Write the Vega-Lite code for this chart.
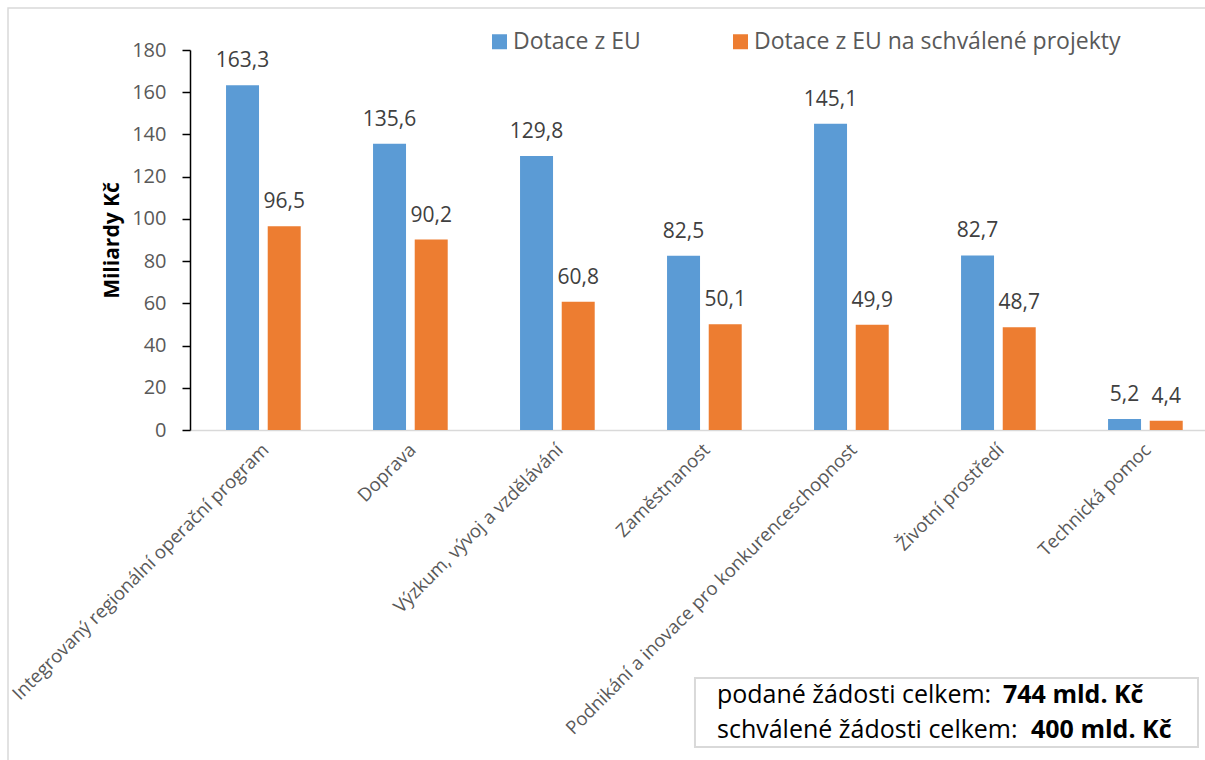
{
  "$schema": "https://vega.github.io/schema/vega-lite/v6.json",
  "width": 1015,
  "height": 380,
  "autosize": {"type": "none"},
  "padding": {"left": 190, "top": 50, "right": 0, "bottom": 330},
  "background": "white",
  "config": {
    "view": {"stroke": null},
    "font": "Open Sans",
    "locale": {"number": {"decimal": ",", "thousands": " ", "grouping": [3], "currency": ["", " Kč"]}}
  },
  "datasets": {
    "bars": [
      {"program": "Integrovaný regionální operační program", "series": "Dotace z EU", "value": 163.3},
      {"program": "Integrovaný regionální operační program", "series": "Dotace z EU na schválené projekty", "value": 96.5},
      {"program": "Doprava", "series": "Dotace z EU", "value": 135.6},
      {"program": "Doprava", "series": "Dotace z EU na schválené projekty", "value": 90.2},
      {"program": "Výzkum, vývoj a vzdělávání", "series": "Dotace z EU", "value": 129.8},
      {"program": "Výzkum, vývoj a vzdělávání", "series": "Dotace z EU na schválené projekty", "value": 60.8},
      {"program": "Zaměstnanost", "series": "Dotace z EU", "value": 82.5},
      {"program": "Zaměstnanost", "series": "Dotace z EU na schválené projekty", "value": 50.1},
      {"program": "Podnikání a inovace pro konkurenceschopnost", "series": "Dotace z EU", "value": 145.1},
      {"program": "Podnikání a inovace pro konkurenceschopnost", "series": "Dotace z EU na schválené projekty", "value": 49.9},
      {"program": "Životní prostředí", "series": "Dotace z EU", "value": 82.7},
      {"program": "Životní prostředí", "series": "Dotace z EU na schválené projekty", "value": 48.7},
      {"program": "Technická pomoc", "series": "Dotace z EU", "value": 5.2},
      {"program": "Technická pomoc", "series": "Dotace z EU na schválené projekty", "value": 4.4}
    ],
    "note": [
      {"line": 1, "normal": "podané žádosti celkem: ", "bold": "744 mld. Kč"},
      {"line": 2, "normal": "schválené žádosti celkem: ", "bold": "400 mld. Kč"}
    ],
    "frame": [{"item": "frame"}]
  },
  "layer": [
    {
      "data": {"name": "bars"},
      "encoding": {
        "x": {
          "field": "program", "type": "nominal", "sort": null, "title": null,
          "scale": {"paddingInner": 0.492, "paddingOuter": 0.1983, "align": 0.618},
          "axis": {
            "labelAngle": -45, "labelFontSize": 18.5, "labelColor": "#595959", "labelLimit": 0,
            "labelPadding": 10, "labelOffset": -4, "ticks": false, "domainColor": "#d9d9d9", "domainWidth": 1.5
          }
        },
        "xOffset": {"field": "series", "type": "nominal", "sort": null, "scale": {"paddingInner": 0.2086, "paddingOuter": 0}},
        "y": {
          "field": "value", "type": "quantitative",
          "scale": {"domain": [0, 180]},
          "axis": {
            "values": [0, 20, 40, 60, 80, 100, 120, 140, 160, 180],
            "grid": false, "title": "Miliardy Kč", "titleFontSize": 21, "titleFontWeight": "bold",
            "titleColor": "#000000", "titlePadding": 9, "labelFontSize": 20, "labelColor": "#595959",
            "labelPadding": 16, "tickSize": 8, "tickColor": "#000000", "tickWidth": 1.5,
            "domainColor": "#000000", "domainWidth": 1.5
          }
        }
      },
      "layer": [
        {
          "mark": {"type": "bar"},
          "encoding": {
            "color": {
              "field": "series", "type": "nominal", "sort": null,
              "scale": {"range": ["#5B9BD5", "#ED7D31"]},
              "legend": {
                "title": null, "orient": "none", "direction": "horizontal", "legendX": 298, "legendY": -20,
                "symbolType": "square", "symbolSize": 225, "symbolStrokeWidth": 0, "symbolOpacity": 1,
                "labelFontSize": 23, "labelColor": "#595959", "labelOffset": 2, "columnPadding": 88, "labelLimit": 0
              }
            }
          }
        },
        {
          "mark": {"type": "text", "baseline": "alphabetic", "dy": -18, "fontSize": 21, "color": "#404040"},
          "encoding": {"text": {"field": "value", "type": "quantitative", "format": ".1f"}}
        }
      ]
    },
    {
      "data": {"name": "frame"},
      "mark": {"type": "rect", "fill": null, "stroke": "#d9d9d9", "strokeWidth": 1.5},
      "encoding": {
        "x": {"datum": -0.1793, "type": "quantitative", "scale": {"domain": [0, 1]}, "axis": null},
        "x2": {"datum": 1.2},
        "y": {"datum": 199.9, "type": "quantitative", "scale": {"domain": [0, 180]}, "axis": null},
        "y2": {"datum": -400}
      }
    },
    {
      "data": {"name": "frame"},
      "mark": {"type": "rect", "fill": "white", "stroke": "#d9d9d9", "strokeWidth": 2},
      "encoding": {
        "x": {"datum": 0.4975, "type": "quantitative", "scale": {"domain": [0, 1]}, "axis": null},
        "x2": {"datum": 0.9931},
        "y": {"datum": -117.5, "type": "quantitative", "scale": {"domain": [0, 180]}, "axis": null},
        "y2": {"datum": -150.2}
      }
    },
    {
      "data": {"name": "note"},
      "transform": [{"filter": "datum.line == 1"}],
      "mark": {"type": "text", "align": "left", "baseline": "alphabetic", "fontSize": 25, "color": "#000000"},
      "encoding": {
        "x": {"datum": 0.5192, "type": "quantitative", "scale": {"domain": [0, 1]}, "axis": null},
        "y": {"datum": -129.3, "type": "quantitative", "scale": {"domain": [0, 180]}, "axis": null},
        "text": {"field": "normal"}
      }
    },
    {
      "data": {"name": "note"},
      "transform": [{"filter": "datum.line == 1"}],
      "mark": {"type": "text", "align": "left", "baseline": "alphabetic", "fontSize": 25, "fontWeight": "bold", "color": "#000000"},
      "encoding": {
        "x": {"datum": 0.801, "type": "quantitative", "scale": {"domain": [0, 1]}, "axis": null},
        "y": {"datum": -129.3, "type": "quantitative", "scale": {"domain": [0, 180]}, "axis": null},
        "text": {"field": "bold"}
      }
    },
    {
      "data": {"name": "note"},
      "transform": [{"filter": "datum.line == 2"}],
      "mark": {"type": "text", "align": "left", "baseline": "alphabetic", "fontSize": 25, "color": "#000000"},
      "encoding": {
        "x": {"datum": 0.5192, "type": "quantitative", "scale": {"domain": [0, 1]}, "axis": null},
        "y": {"datum": -145.9, "type": "quantitative", "scale": {"domain": [0, 180]}, "axis": null},
        "text": {"field": "normal"}
      }
    },
    {
      "data": {"name": "note"},
      "transform": [{"filter": "datum.line == 2"}],
      "mark": {"type": "text", "align": "left", "baseline": "alphabetic", "fontSize": 25, "fontWeight": "bold", "color": "#000000"},
      "encoding": {
        "x": {"datum": 0.8286, "type": "quantitative", "scale": {"domain": [0, 1]}, "axis": null},
        "y": {"datum": -145.9, "type": "quantitative", "scale": {"domain": [0, 180]}, "axis": null},
        "text": {"field": "bold"}
      }
    }
  ],
  "resolve": {"scale": {"x": "independent", "y": "independent"}}
}
